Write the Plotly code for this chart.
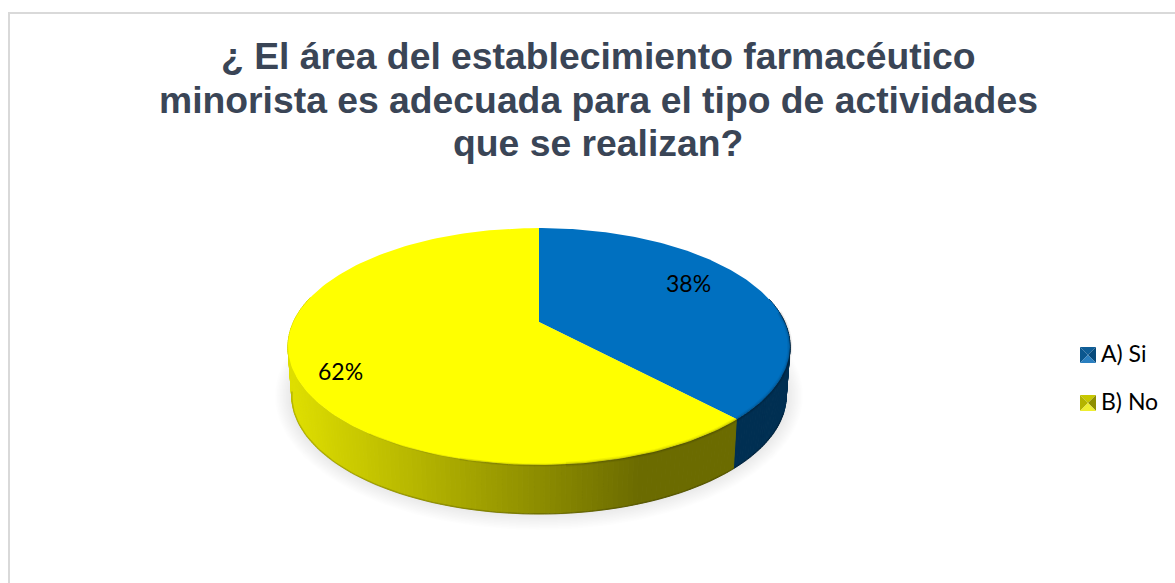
"""3D style pie chart: adequacy of the retail pharmacy area."""

import numpy as np
import plotly.graph_objects as go

TITLE_LINES = ['¿ El área del establecimiento farmacéutico',
               'minorista es adecuada para el tipo de actividades',
               'que se realizan?']
CATEGORIES = ['A) Si', 'B) No']
VALUES = [38, 62]

FACE_COLORS = ['#0070c0', '#ffff00']
WALL_BLUE = '#002f52'
WIDTH, HEIGHT = 1175, 583

# perspective disc, in pixels
CX, APEX_Y = 539, 322
A, B, K = 245.6, 113.4, 0.2068
DEPTH = 49
BOTTOM_SCALE = 0.985


def project(theta, r=1.0):
    """Angle clockwise from 12 o'clock to pixel position on the top face."""
    u = r * np.sin(theta)
    v = -r * np.cos(theta)
    d = 1 - K * v
    return CX + A * u / d, APEX_Y + B * v / d


def wall_color(x):
    t = min(max((x - 293) / (640 - 293), 0), 1)
    c = int(round(222 + (107 - 222) * t))
    return f'rgb({c},{c},0)'


fig = go.Figure()

# soft shadow below the pie
for i in range(20):
    th = np.linspace(0, 2 * np.pi, 180)
    fig.add_trace(go.Scatter(
        x=CX + (264 - i * 1.5) * np.sin(th),
        y=396 + (134 - i * 1.5) * np.cos(th),
        mode='lines', fill='toself', line=dict(width=0),
        fillcolor='rgba(0,0,0,0.009)', hoverinfo='skip', showlegend=False
    ))

# side wall, one thin strip at a time
split = VALUES[0] / sum(VALUES) * 2 * np.pi
steps = np.radians(np.arange(78, 284, 1.0))
for t0, t1 in zip(steps[:-1], steps[1:]):
    x0, y0 = project(t0)
    x1, y1 = project(t1)
    bx0 = CX + (x0 - CX) * BOTTOM_SCALE
    bx1 = CX + (x1 - CX) * BOTTOM_SCALE
    color = WALL_BLUE if t0 < split else wall_color((x0 + x1) / 2)
    fig.add_trace(go.Scatter(
        x=[x0, x1, bx1, bx0, x0],
        y=[y0, y1, y1 + DEPTH, y0 + DEPTH, y0],
        mode='lines', fill='toself', line=dict(width=1, color=color),
        fillcolor=color, hoverinfo='skip', showlegend=False
    ))

# darker bottom edge of the wall
th = np.radians(np.linspace(110, 260, 120))
ex, ey = project(th)
fig.add_trace(go.Scatter(
    x=CX + (ex - CX) * BOTTOM_SCALE, y=ey + DEPTH, mode='lines',
    line=dict(width=1.5, color='rgba(0,0,0,0.18)'),
    hoverinfo='skip', showlegend=False
))

# top face slices
start = 0.0
for name, value, color in zip(CATEGORIES, VALUES, FACE_COLORS):
    end = start + value / sum(VALUES) * 2 * np.pi
    th = np.linspace(start, end, 160)
    px, py = project(th)
    fig.add_trace(go.Scatter(
        x=np.r_[CX, px, CX], y=np.r_[APEX_Y, py, APEX_Y],
        mode='lines', fill='toself', line=dict(width=0),
        fillcolor=color, hoverinfo='skip', showlegend=False
    ))
    # native legend entry, the bevelled key is drawn underneath it
    fig.add_trace(go.Scatter(
        x=[None], y=[None], name=name, mode='markers',
        marker=dict(symbol='square', size=1, color='rgba(0,0,0,0)'),
        legendgroup=name
    ))
    start = end

# soft dark bevel along the front rim, tapering out to the left
for lw, alpha, stop in [(5, 0.05, 175), (3, 0.07, 195), (1.5, 0.09, 215)]:
    th = np.radians(np.linspace(85, stop, 140))
    rx, ry = project(th)
    fig.add_trace(go.Scatter(
        x=rx, y=ry, mode='lines',
        line=dict(width=lw, color=f'rgba(0,0,0,{alpha})'),
        hoverinfo='skip', showlegend=False
    ))

# border of the chart area
shapes = [dict(type='path', path=f'M9,{HEIGHT} L9,13 L{WIDTH},13',
               line=dict(color='#d9d9d9', width=2), layer='below')]

# bevelled legend keys
KEY_COLORS = [
    ['#0f5d96', '#0b578f', '#084a7b', '#2a7fc0'],
    ['#c8c800', '#b4b400', '#8f8f00', '#eeee30'],
]
KEY_SIZE = 16
for (kx, ky), colors in zip([(1080, 347), (1080, 395)], KEY_COLORS):
    cxk, cyk = kx + KEY_SIZE / 2, ky + KEY_SIZE / 2
    corners = [(kx, ky), (kx + KEY_SIZE, ky), (kx + KEY_SIZE, ky + KEY_SIZE), (kx, ky + KEY_SIZE)]
    # top, left, right, bottom facets
    facets = [(0, 1, colors[0]), (3, 0, colors[1]), (1, 2, colors[2]), (2, 3, colors[3])]
    for a, b, c in facets:
        shapes.append(dict(
            type='path', layer='above', fillcolor=c, line=dict(width=0),
            path=(f'M{corners[a][0]},{corners[a][1]} L{corners[b][0]},{corners[b][1]} '
                  f'L{cxk},{cyk} Z')
        ))

annotations = [
    dict(x=688, y=283, text=f'{VALUES[0]}%'),
    dict(x=340, y=371, text=f'{VALUES[1]}%'),
]
for ann in annotations:
    ann.update(xref='x', yref='y', showarrow=False,
               font=dict(family='Lato', size=23, color='#000000'))

# title lines sit closer together than the native title allows
for line, y in zip(TITLE_LINES, [56, 99.5, 143]):
    annotations.append(dict(
        x=598, y=y, xref='x', yref='y', showarrow=False, text=f'<b>{line}</b>',
        font=dict(family='Liberation Sans', size=37.3, color='#3a4556')
    ))

fig.update_layout(
    width=WIDTH,
    height=HEIGHT,
    margin=dict(l=0, r=0, t=0, b=0),
    paper_bgcolor='#ffffff',
    plot_bgcolor='#ffffff',
    legend=dict(
        x=1061 / WIDTH, y=1 - 332 / HEIGHT, xanchor='left', yanchor='top',
        bgcolor='rgba(0,0,0,0)', tracegroupgap=15,
        font=dict(family='Lato', size=23, color='#000000')
    ),
    shapes=shapes,
    annotations=annotations,
    xaxis=dict(range=[0, WIDTH], visible=False, fixedrange=True),
    yaxis=dict(range=[HEIGHT, 0], visible=False, fixedrange=True),
)

fig.write_html(
    'out.html',
    config=dict(displayModeBar=False),
    post_script="document.body.style.margin='0';document.documentElement.style.overflow='hidden';"
)
